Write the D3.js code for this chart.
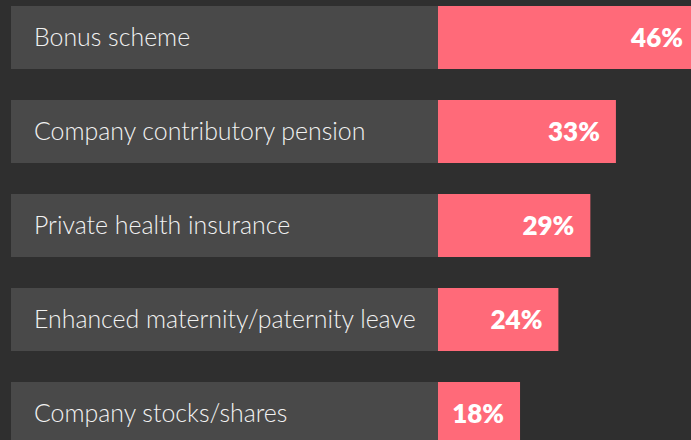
<!DOCTYPE html>
<html>
<head>
<meta charset="utf-8">
<script src="https://cdn.jsdelivr.net/npm/d3@7"></script>
<style>
  html, body { margin: 0; padding: 0; background: #2f2f2f; }
  svg { display: block; }
</style>
</head>
<body>
<svg id="chart" width="691" height="440"></svg>
<script>
// Share of respondents offered each benefit
const categories = [
  "Bonus scheme",
  "Company contributory pension",
  "Private health insurance",
  "Enhanced maternity/paternity leave",
  "Company stocks/shares"
];
const values = [46, 33, 29, 24, 18];

const width = 691, height = 440;
const svg = d3.select("#chart");

svg.append("rect").attr("width", width).attr("height", height).attr("fill", "#2f2f2f");

const labelLeft = 11, labelRight = 438;

const y = d3.scaleBand()
  .domain(categories)
  .range([6, 445])
  .paddingInner(31 / 94)
  .paddingOuter(0);

const x = d3.scaleLinear()
  .domain([0, 46])
  .range([405, 699]);

const rows = svg.selectAll("g.row")
  .data(categories.map((c, i) => ({ name: c, value: values[i] })))
  .join("g")
  .attr("class", "row")
  .attr("transform", d => `translate(0,${y(d.name)})`);

rows.append("rect")
  .attr("x", labelLeft)
  .attr("width", labelRight - labelLeft)
  .attr("height", y.bandwidth())
  .attr("fill", "#494949");

rows.append("rect")
  .attr("x", labelRight)
  .attr("width", d => x(d.value) - labelRight)
  .attr("height", y.bandwidth())
  .attr("fill", "#ff6a79");

rows.append("text")
  .attr("x", 34)
  .attr("y", y.bandwidth() / 2)
  .attr("dy", "0.36em")
  .attr("fill", "#f2f2f2")
  .style("font-family", "Lato, 'Open Sans', sans-serif")
  .style("font-weight", 300)
  .style("font-size", "24.9px")
  .text(d => d.name);

rows.append("text")
  .attr("x", d => x(d.value) - 16)
  .attr("y", y.bandwidth() / 2)
  .attr("dy", "0.36em")
  .attr("text-anchor", "end")
  .attr("fill", "#ffffff")
  .style("font-family", "Lato, 'Open Sans', sans-serif")
  .style("font-weight", 800)
  .style("font-size", "26px")
  .text(d => d.value + "%");
</script>
</body>
</html>
